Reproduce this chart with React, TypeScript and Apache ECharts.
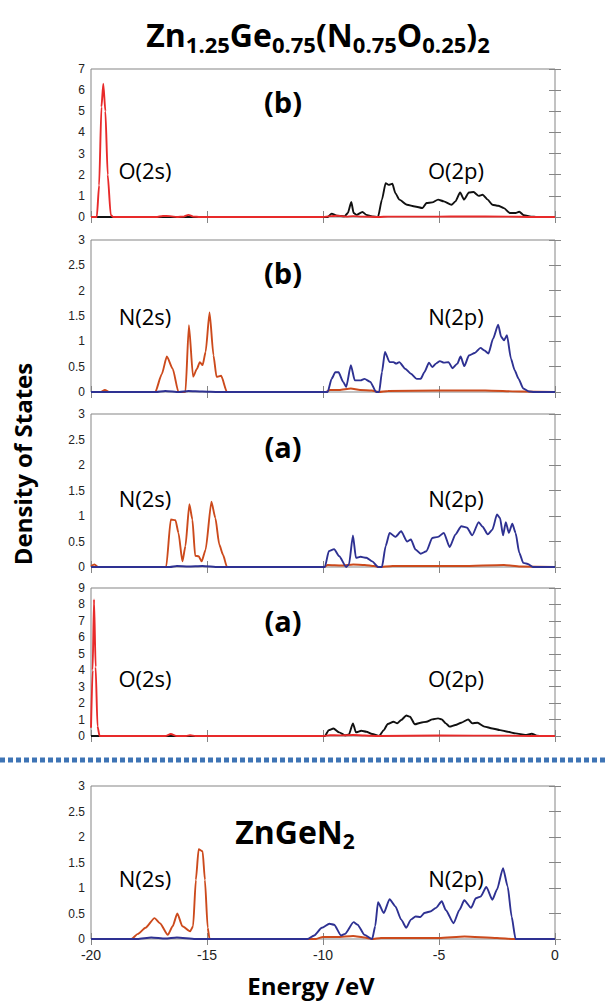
import React, { useEffect, useRef } from "react";
import * as echarts from "echarts";

// ---------- data (energy eV, density of states) ----------
const energyRange = [-20, 0];
const energyStep = 5;

// panel 1: (b) oxygen
const p1O2s: [number, number][] = [
  [-20, 0], [-19.75, 0], [-19.65, 1.5], [-19.55, 5.2], [-19.47, 6.3], [-19.38, 5.0], [-19.28, 2.0], [-19.15, 0.1], [-19.05, 0],
  [-17.2, 0], [-16.9, 0.05], [-16.6, 0.04], [-16.3, 0], [-16.0, 0.02], [-15.8, 0.1], [-15.6, 0.02], [-15.3, 0],
  [-10, 0], [-9.7, 0.04], [-9.4, 0.06], [-9.0, 0.02], [-8.7, 0.04], [-8.3, 0.02], [-7.6, 0], [-7.2, 0.02],
  [-5, 0.02], [-4, 0.03], [-2, 0.02], [-1, 0], [0, 0],
];
const p1O2p: [number, number][] = [
  [-20, 0], [-9.8, 0], [-9.63, 0.16], [-9.4, 0.06], [-9.07, 0.03], [-8.93, 0.19], [-8.78, 0.71], [-8.68, 0.19], [-8.55, 0.1],
  [-8.3, 0.24], [-8.13, 0.1], [-7.88, 0.03], [-7.63, 0], [-7.46, 0.82], [-7.3, 1.6], [-7.17, 1.52], [-7.01, 1.57], [-6.88, 1.13],
  [-6.71, 0.82], [-6.38, 0.58], [-6.04, 0.5], [-5.71, 0.42], [-5.54, 0.66], [-5.29, 0.69], [-5.04, 0.82], [-4.79, 0.74],
  [-4.46, 0.58], [-4.29, 0.74], [-4.09, 1.16], [-3.92, 0.82], [-3.71, 1.16], [-3.51, 1.18], [-3.29, 1.0], [-3.12, 1.05],
  [-2.9, 0.82], [-2.7, 0.58], [-2.45, 0.53], [-2.2, 0.42], [-1.95, 0.19], [-1.7, 0.19], [-1.54, 0.25], [-1.34, 0.08],
  [-1.03, 0.02], [-0.78, 0], [0, 0],
];

// panel 2: (b) nitrogen
const p2N2s: [number, number][] = [
  [-20, 0], [-19.6, 0], [-19.4, 0.04], [-19.2, 0], [-17.23, 0], [-16.95, 0.35], [-16.73, 0.7], [-16.48, 0.46], [-16.23, 0],
  [-15.93, 0], [-15.78, 1.32], [-15.6, 0.3], [-15.43, 0.46], [-15.31, 0.59], [-15.19, 0.53], [-15.06, 0.79], [-14.89, 1.57],
  [-14.72, 0.72], [-14.59, 0.3], [-14.39, 0.32], [-14.14, 0], [-9.9, 0], [-9.7, 0.04], [-9.3, 0.04], [-8.8, 0.07],
  [-8.4, 0.04], [-7.9, 0.03], [-7.6, 0], [-7.2, 0.02], [-5, 0.03], [-3, 0.03], [-1.5, 0.01], [0, 0],
];
const p2N2p: [number, number][] = [
  [-20, 0], [-17.2, 0], [-16.8, 0.02], [-16.2, 0], [-15.8, 0.02], [-15.2, 0.01], [-14.5, 0], [-9.8, 0], [-9.63, 0.26],
  [-9.47, 0.39], [-9.33, 0.39], [-9.13, 0.2], [-9.0, 0.1], [-8.8, 0.53], [-8.63, 0.23], [-8.38, 0.23], [-8.21, 0.26],
  [-7.96, 0.2], [-7.71, 0], [-7.58, 0], [-7.46, 0.39], [-7.33, 0.79], [-7.13, 0.59], [-6.96, 0.59], [-6.85, 0.56],
  [-6.71, 0.59], [-6.46, 0.46], [-6.21, 0.36], [-5.96, 0.26], [-5.79, 0.26], [-5.63, 0.39], [-5.43, 0.58], [-5.29, 0.49],
  [-5.13, 0.56], [-4.96, 0.61], [-4.79, 0.58], [-4.59, 0.59], [-4.42, 0.47], [-4.21, 0.56], [-4.07, 0.7], [-3.91, 0.51],
  [-3.71, 0.72], [-3.46, 0.77], [-3.21, 0.87], [-3.04, 0.82], [-2.87, 0.76], [-2.67, 1.05], [-2.45, 1.33], [-2.32, 1.09],
  [-2.2, 1.02], [-2.07, 1.12], [-1.9, 0.66], [-1.74, 0.43], [-1.57, 0.26], [-1.37, 0.07], [-1.12, 0.01], [-0.9, 0], [0, 0],
];

// panel 3: (a) nitrogen
const p3N2s: [number, number][] = [
  [-20, 0.02], [-19.85, 0.05], [-19.7, 0], [-16.76, 0], [-16.56, 0.93], [-16.36, 0.92], [-16.23, 0.67], [-16.06, 0.11],
  [-15.93, 0.41], [-15.76, 1.23], [-15.63, 0.93], [-15.51, 0.22], [-15.36, 0.21], [-15.23, 0.11], [-15.06, 0.34],
  [-14.81, 1.28], [-14.64, 0.96], [-14.47, 0.44], [-14.31, 0.24], [-14.14, 0], [-9.95, 0], [-9.8, 0.04], [-9.2, 0.03],
  [-8.7, 0.05], [-8.2, 0.04], [-7.8, 0.02], [-7.6, 0], [-7, 0.02], [-4, 0.02], [-2.2, 0.04], [-1.5, 0.01], [0, 0],
];
const p3N2p: [number, number][] = [
  [-20, 0], [-16.6, 0], [-16.3, 0.02], [-15.8, 0.01], [-15.2, 0.02], [-14.5, 0], [-9.92, 0], [-9.75, 0.31], [-9.52, 0.35],
  [-9.3, 0.21], [-9.0, 0], [-8.88, 0.05], [-8.71, 0.62], [-8.58, 0.18], [-8.38, 0.2], [-8.13, 0.18], [-7.88, 0.11],
  [-7.63, 0], [-7.46, 0], [-7.3, 0.41], [-7.13, 0.67], [-6.88, 0.59], [-6.63, 0.7], [-6.38, 0.5], [-6.21, 0.54],
  [-6.01, 0.34], [-5.79, 0.26], [-5.54, 0.31], [-5.29, 0.57], [-5.04, 0.59], [-4.79, 0.67], [-4.54, 0.39], [-4.29, 0.64],
  [-4.04, 0.8], [-3.79, 0.77], [-3.57, 0.62], [-3.29, 0.88], [-3.12, 0.79], [-2.9, 0.64], [-2.7, 0.73], [-2.5, 1.03],
  [-2.37, 0.96], [-2.24, 0.62], [-2.12, 0.88], [-1.99, 0.67], [-1.84, 0.85], [-1.7, 0.67], [-1.54, 0.28], [-1.37, 0.08],
  [-1.17, 0.06], [-0.95, 0], [0, 0],
];

// panel 4: (a) oxygen
const p4O2s: [number, number][] = [
  [-20, 0.5], [-19.93, 4.0], [-19.87, 8.3], [-19.8, 4.2], [-19.72, 0.6], [-19.63, 0], [-16.8, 0], [-16.56, 0.12],
  [-16.3, 0], [-15.9, 0], [-15.73, 0.05], [-15.5, 0], [-10, 0], [-9.7, 0.05], [-9.3, 0.04], [-8.7, 0.06], [-8.2, 0.03],
  [-7.6, 0], [-5, 0.03], [-2, 0.02], [-1, 0], [0, 0],
];
const p4O2p: [number, number][] = [
  [-20, 0], [-9.92, 0], [-9.75, 0.36], [-9.55, 0.46], [-9.3, 0.22], [-9.05, 0.04], [-8.88, 0.1], [-8.71, 0.77],
  [-8.58, 0.22], [-8.35, 0.32], [-8.13, 0.26], [-7.88, 0.12], [-7.58, 0], [-7.38, 0.36], [-7.21, 0.73], [-6.96, 0.87],
  [-6.8, 0.77], [-6.63, 0.97], [-6.41, 1.25], [-6.25, 1.17], [-6.04, 0.71], [-5.79, 0.81], [-5.54, 0.87], [-5.29, 1.01],
  [-5.04, 1.07], [-4.88, 1.01], [-4.71, 0.77], [-4.54, 0.57], [-4.29, 0.67], [-4.04, 0.81], [-3.74, 1.01], [-3.57, 0.77],
  [-3.34, 0.81], [-3.04, 0.57], [-2.7, 0.46], [-2.37, 0.36], [-2.04, 0.26], [-1.7, 0.16], [-1.28, 0.06], [-1.0, 0.14],
  [-0.78, 0.02], [-0.53, 0], [0, 0],
];

// panel 5: ZnGeN2 nitrogen
const p5N2s: [number, number][] = [
  [-20, 0], [-18.26, 0], [-17.98, 0.1], [-17.65, 0.22], [-17.26, 0.41], [-17.03, 0.31], [-16.69, 0.08], [-16.48, 0.25],
  [-16.28, 0.5], [-16.06, 0.25], [-15.73, 0.15], [-15.6, 0.25], [-15.48, 1.16], [-15.36, 1.76], [-15.19, 1.72],
  [-15.09, 1.16], [-14.97, 0.22], [-14.89, 0], [-10.3, 0], [-10.0, 0.04], [-9.4, 0.04], [-8.7, 0.06], [-8.2, 0.03],
  [-7.9, 0], [-7.5, 0.02], [-5, 0.02], [-3.9, 0.05], [-2.5, 0.02], [-1.8, 0], [0, 0],
];
const p5N2p: [number, number][] = [
  [-20, 0], [-18, 0], [-17.4, 0.03], [-16.8, 0.01], [-16.3, 0.03], [-15.5, 0], [-10.67, 0], [-10.38, 0.07], [-10.05, 0.22],
  [-9.72, 0.3], [-9.52, 0.28], [-9.22, 0.07], [-9.05, 0.1], [-8.68, 0.33], [-8.51, 0.28], [-8.21, 0.08], [-7.88, 0],
  [-7.75, 0.25], [-7.63, 0.72], [-7.38, 0.51], [-7.13, 0.78], [-6.88, 0.64], [-6.63, 0.38], [-6.41, 0.22], [-6.21, 0.38],
  [-6.01, 0.44], [-5.8, 0.43], [-5.63, 0.51], [-5.38, 0.54], [-5.13, 0.61], [-4.88, 0.74], [-4.71, 0.57], [-4.37, 0.31],
  [-4.12, 0.57], [-3.91, 0.76], [-3.62, 0.61], [-3.41, 0.8], [-3.21, 0.83], [-2.96, 1.02], [-2.7, 0.77], [-2.5, 0.97],
  [-2.24, 1.39], [-2.04, 1.03], [-1.87, 0.44], [-1.7, 0], [0, 0],
];

const yMaxes = [7, 3, 3, 9, 3];
const yIntervals = [1, 0.5, 0.5, 1, 0.5];
const panelTags = ["(b)", "(b)", "(a)", "(a)", ""];
const sLabels = ["O(2s)", "N(2s)", "N(2s)", "O(2s)", "N(2s)"];
const pLabels = ["O(2p)", "N(2p)", "N(2p)", "O(2p)", "N(2p)"];

// ---------- styles ----------
const RED = "#e82a2a";
const BLACK = "#111111";
const ORANGE = "#cc4a1c";
const NAVY = "#2e3192";
const FRAME = "#858585";
const SANS = '"Open Sans", "Noto Sans", sans-serif';
const TICKF = '"Liberation Sans", Arial, sans-serif';

export default function App() {
  const ref = useRef<HTMLDivElement>(null);

  useEffect(() => {
    if (!ref.current) return;
    const chart = echarts.init(ref.current, null, { renderer: "svg" });

    const L = 91;
    const W = 464;
    const tops = [69, 240, 414, 588, 786];
    const heights = [148, 152, 153, 148, 153];
    const panelSeries: { data: [number, number][]; color: string }[][] = [
      [{ data: p1O2p, color: BLACK }, { data: p1O2s, color: RED }],
      [{ data: p2N2s, color: ORANGE }, { data: p2N2p, color: NAVY }],
      [{ data: p3N2s, color: ORANGE }, { data: p3N2p, color: NAVY }],
      [{ data: p4O2p, color: BLACK }, { data: p4O2s, color: RED }],
      [{ data: p5N2s, color: ORANGE }, { data: p5N2p, color: NAVY }],
    ];

    const grid: any[] = [];
    const xAxis: any[] = [];
    const yAxis: any[] = [];
    const series: any[] = [];
    const tick = { show: true, inside: true, length: 6, lineStyle: { color: FRAME, width: 1 } };

    tops.forEach((top, i) => {
      grid.push({
        left: L, width: W, top, height: heights[i], show: true,
        borderColor: FRAME, borderWidth: 1, backgroundColor: "transparent",
      });
      const xBase = {
        type: "value", gridIndex: i, min: energyRange[0], max: energyRange[1], interval: energyStep,
        axisLine: { show: false }, axisTick: tick, splitLine: { show: false },
      };
      xAxis.push({
        ...xBase, position: "bottom",
        axisLabel: { show: i === 4, fontFamily: TICKF, fontSize: 14, color: "#222", margin: 9 },
      });
      xAxis.push({ ...xBase, position: "top", axisLabel: { show: false } });
      const yBase = {
        type: "value", gridIndex: i, min: 0, max: yMaxes[i], interval: yIntervals[i],
        axisLine: { show: false }, axisTick: tick, splitLine: { show: false },
      };
      yAxis.push({
        ...yBase, position: "left",
        axisLabel: { show: true, fontFamily: TICKF, fontSize: 12, color: "#222", margin: 6 },
      });
      yAxis.push({ ...yBase, position: "right", axisLabel: { show: false } });

      panelSeries[i].forEach((s) => {
        series.push({
          type: "line", xAxisIndex: 2 * i, yAxisIndex: 2 * i, data: s.data,
          showSymbol: false, smooth: 0.2, smoothMonotone: "x", silent: true,
          lineStyle: { color: s.color, width: 1.9 },
        });
      });
    });

    const label = (text: string, x: number, y: number, size: number, bold = false) => ({
      type: "text", x, y, silent: true,
      style: {
        text, fill: "#000", fontFamily: SANS, fontSize: size, fontWeight: bold ? "bold" : "normal",
        align: "center", verticalAlign: "middle",
      },
    });

    const graphic: any[] = [];
    tops.forEach((top, i) => {
      if (panelTags[i]) graphic.push(label(panelTags[i], 283, top + 32, 29, true));
      const ly = i === 4 ? 878 : top + [101, 76, 84, 90][i];
      graphic.push(label(sLabels[i], 145, ly, 22));
      graphic.push(label(pLabels[i], 456, ly, 22));
    });

    // title with subscripts
    const richM = { fontFamily: SANS, fontSize: 32, fontWeight: "bold", lineHeight: 38, verticalAlign: "top" };
    const richS = { fontFamily: SANS, fontSize: 22, fontWeight: "bold", lineHeight: 22, verticalAlign: "top", padding: [15, 0, 0, 0] };
    graphic.push({
      type: "text", x: 318, y: 37, silent: true,
      style: {
        text: "{m|Zn}{s|1.25}{m|Ge}{s|0.75}{m|(N}{s|0.75}{m|O}{s|0.25}{m|)}{s|2}",
        rich: { m: richM, s: richS }, fill: "#000", align: "center", verticalAlign: "middle",
      },
    });
    graphic.push({
      type: "text", x: 295, y: 834, silent: true,
      style: {
        text: "{m|ZnGeN}{s|2}",
        rich: {
          m: { ...richM, fontSize: 32, lineHeight: 38 },
          s: { ...richS, fontSize: 21, lineHeight: 21, padding: [15, 0, 0, 0] },
        },
        fill: "#000", align: "center", verticalAlign: "middle",
      },
    });

    graphic.push({
      type: "text", x: 22, y: 464, rotation: Math.PI / 2, silent: true,
      style: {
        text: "Density of States", fill: "#000", fontFamily: SANS, fontSize: 24, fontWeight: "bold",
        align: "center", verticalAlign: "middle",
      },
    });
    graphic.push(label("Energy /eV", 311, 985, 24, true));

    // dotted separator
    graphic.push({
      type: "line", silent: true,
      shape: { x1: 0, y1: 760, x2: 608, y2: 760 },
      style: { stroke: "#3e74b5", lineWidth: 5, lineDash: [5, 3] },
    });

    chart.setOption({
      animation: false,
      backgroundColor: "#ffffff",
      grid, xAxis, yAxis, series, graphic,
    });

    return () => chart.dispose();
  }, []);

  return (
    <div
      ref={ref}
      style={{ position: "absolute", left: 0, top: 0, width: 608, height: 1002 }}
    />
  );
}
